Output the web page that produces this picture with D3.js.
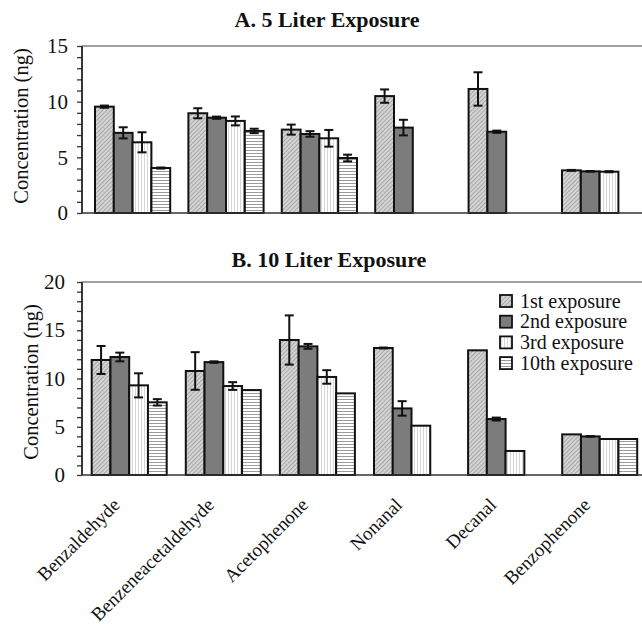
<!DOCTYPE html>
<html>
<head>
<meta charset="utf-8">
<script src="https://cdn.jsdelivr.net/npm/d3@7"></script>
<style>
  html, body { margin: 0; padding: 0; background: #fff; }
  svg { display: block; }
</style>
</head>
<body>
<svg id="chart" width="642" height="624"></svg>
<script>
// ---------- DATA ----------
const categories = ["Benzaldehyde", "Benzeneacetaldehyde", "Acetophenone", "Nonanal", "Decanal", "Benzophenone"];
const seriesNames = ["1st exposure", "2nd exposure", "3rd exposure", "10th exposure"];

// A. 5 Liter Exposure
const a1st  = [9.55, 8.96, 7.49, 10.5, 11.14, 3.83];
const a2nd  = [7.2, 8.56, 7.1, 7.67, 7.3, 3.74];
const a3rd  = [6.35, 8.27, 6.71, 0, 0, 3.71];
const a10th = [4.04, 7.37, 4.94, 0, 0, 0];
const a1stErr  = [0.1, 0.45, 0.45, 0.6, 1.5, 0.04];
const a2ndErr  = [0.5, 0.1, 0.25, 0.7, 0.1, 0.03];
const a3rdErr  = [0.9, 0.4, 0.75, 0, 0, 0.05];
const a10thErr = [0.05, 0.2, 0.3, 0, 0, 0];

// B. 10 Liter Exposure
const b1st  = [11.92, 10.78, 13.99, 13.16, 12.92, 4.21];
const b2nd  = [12.23, 11.7, 13.33, 6.9, 5.8, 4.0];
const b3rd  = [9.29, 9.22, 10.16, 5.11, 2.49, 3.73];
const b10th = [7.53, 8.8, 8.46, 0, 0, 3.73];
const b1stErr  = [1.45, 1.95, 2.55, 0.05, 0, 0];
const b2ndErr  = [0.45, 0.08, 0.25, 0.75, 0.15, 0.03];
const b3rdErr  = [1.25, 0.4, 0.7, 0, 0, 0];
const b10thErr = [0.33, 0, 0, 0, 0, 0];

const yTicksA = [0, 5, 10, 15];
const yTicksB = [0, 5, 10, 15, 20];

// ---------- DRAW ----------
const FONT = '"Liberation Serif", "Times New Roman", serif';
const svg = d3.select("#chart");
const defs = svg.append("defs");

// patterns
const p1 = defs.append("pattern").attr("id", "pat0").attr("patternUnits", "userSpaceOnUse")
  .attr("width", 3).attr("height", 3).attr("patternTransform", "rotate(45)");
p1.append("rect").attr("width", 3).attr("height", 3).attr("fill", "#d4d4d4");
p1.append("line").attr("x1", 0).attr("y1", 0).attr("x2", 0).attr("y2", 3)
  .attr("stroke", "#8e8e8e").attr("stroke-width", 1.3);

const p2 = defs.append("pattern").attr("id", "pat1").attr("patternUnits", "userSpaceOnUse")
  .attr("width", 4).attr("height", 4);
p2.append("rect").attr("width", 4).attr("height", 4).attr("fill", "#7c7c7c");

const p3 = defs.append("pattern").attr("id", "pat2").attr("patternUnits", "userSpaceOnUse")
  .attr("width", 3).attr("height", 3);
p3.append("rect").attr("width", 3).attr("height", 3).attr("fill", "#ffffff");
p3.append("line").attr("x1", 0.5).attr("y1", 0).attr("x2", 0.5).attr("y2", 3)
  .attr("stroke", "#d6d6d6").attr("stroke-width", 1);

const p4 = defs.append("pattern").attr("id", "pat3").attr("patternUnits", "userSpaceOnUse")
  .attr("width", 3).attr("height", 3);
p4.append("rect").attr("width", 3).attr("height", 3).attr("fill", "#ffffff");
p4.append("line").attr("x1", 0).attr("y1", 0.5).attr("x2", 3).attr("y2", 0.5)
  .attr("stroke", "#9a9a9a").attr("stroke-width", 1);

function panel(cfg) {
  const g = svg.append("g");
  const y = d3.scaleLinear().domain([0, cfg.yMax]).range([cfg.y0, cfg.yTop]);
  const x0 = d3.scaleBand().domain(categories).range([cfg.xLeft, cfg.xLeft + 6 * cfg.band]);
  const x1 = d3.scaleBand().domain(seriesNames).range([cfg.offset, cfg.offset + 4 * cfg.barW]);

  // title
  g.append("text").attr("x", cfg.titleX).attr("y", cfg.titleY)
    .attr("text-anchor", "middle")
    .style("font-family", FONT).style("font-size", "22px").style("font-weight", "bold").style("fill", "#111")
    .text(cfg.title);

  // top frame line
  g.append("line").attr("x1", cfg.xLeft).attr("x2", 642).attr("y1", y(cfg.yMax)).attr("y2", y(cfg.yMax))
    .attr("stroke", "#808080").attr("stroke-width", 1.5);

  // y axis
  const axis = d3.axisLeft(y).tickValues(d3.range(0, cfg.yMax + 1, 1))
    .tickSize(5).tickPadding(cfg.tickPad)
    .tickFormat(d => cfg.yTicks.includes(d) ? d : "");
  const ag = g.append("g").attr("transform", `translate(${cfg.xLeft},0)`).call(axis)
    .attr("font-family", null).attr("font-size", null);
  ag.select(".domain").remove();
  ag.selectAll(".tick line").attr("stroke", "#333").attr("stroke-width", 1.3);
  ag.selectAll(".tick text").style("font-size", "21px").style("font-family", FONT).style("fill", "#111");
  g.append("line").attr("x1", cfg.xLeft).attr("x2", cfg.xLeft).attr("y1", y(cfg.yMax)).attr("y2", y(0))
    .attr("stroke", "#222").attr("stroke-width", 1.8);

  // y title
  g.append("text").attr("transform", `translate(${cfg.yTitleX},${cfg.yTitleY}) rotate(-90)`)
    .attr("text-anchor", "middle")
    .style("font-family", FONT).style("font-size", "20.5px").style("fill", "#111")
    .text("Concentration (ng)");

  // bars
  const rows = [];
  categories.forEach((c, i) => {
    seriesNames.forEach((s, j) => {
      rows.push({ cat: c, ser: s, j: j, v: cfg.values[j][i], e: cfg.errs[j][i] });
    });
  });

  const bars = g.append("g");
  bars.selectAll("rect").data(rows).join("rect")
    .attr("x", d => x0(d.cat) + x1(d.ser))
    .attr("y", d => y(d.v))
    .attr("width", x1.bandwidth())
    .attr("height", d => y(0) - y(d.v))
    .attr("fill", d => `url(#pat${d.j})`)
    .attr("stroke", d => d.v > 0 ? "#111" : "#bbb")
    .attr("stroke-width", d => d.v > 0 ? 2 : 1.5);

  // x axis baseline
  g.append("line").attr("x1", cfg.xLeft).attr("x2", 642).attr("y1", y(0)).attr("y2", y(0))
    .attr("stroke", "#333").attr("stroke-width", 1.6);

  // error bars
  const eb = g.append("g").attr("stroke", "#111").attr("stroke-width", 2);
  const er = rows.filter(d => d.e > 0);
  const cx = d => x0(d.cat) + x1(d.ser) + x1.bandwidth() / 2;
  eb.selectAll("line.v").data(er).join("line").attr("class", "v")
    .attr("x1", cx).attr("x2", cx).attr("y1", d => y(d.v + d.e)).attr("y2", d => y(d.v - d.e));
  eb.selectAll("line.t").data(er).join("line").attr("class", "t")
    .attr("x1", d => cx(d) - 4.5).attr("x2", d => cx(d) + 4.5).attr("y1", d => y(d.v + d.e)).attr("y2", d => y(d.v + d.e));
  eb.selectAll("line.b").data(er).join("line").attr("class", "b")
    .attr("x1", d => cx(d) - 4.5).attr("x2", d => cx(d) + 4.5).attr("y1", d => y(d.v - d.e)).attr("y2", d => y(d.v - d.e));

  return { x0, y };
}

panel({
  title: "A. 5 Liter Exposure", titleX: 327, titleY: 27,
  yMax: 15, yTicks: yTicksA, y0: 213, yTop: 46, xLeft: 82, band: 93.4, offset: 13, barW: 18.8,
  tickPad: 9, yTitleX: 28, yTitleY: 126,
  values: [a1st, a2nd, a3rd, a10th], errs: [a1stErr, a2ndErr, a3rdErr, a10thErr]
});

const pb = panel({
  title: "B. 10 Liter Exposure", titleX: 329, titleY: 267,
  yMax: 20, yTicks: yTicksB, y0: 475, yTop: 282, xLeft: 82, band: 94.1, offset: 9.7, barW: 18.75,
  tickPad: 12, yTitleX: 38, yTitleY: 382,
  values: [b1st, b2nd, b3rd, b10th], errs: [b1stErr, b2ndErr, b3rdErr, b10thErr]
});

// x labels (rotated)
svg.append("g").selectAll("text").data(categories).join("text")
  .attr("transform", d => `translate(${pb.x0(d) + pb.x0.bandwidth() / 2 - 8},${506}) rotate(-45)`)
  .attr("text-anchor", "end")
  .style("font-family", FONT).style("font-size", "19px").style("fill", "#111")
  .text(d => d);

// legend
const leg = svg.append("g");
seriesNames.forEach((s, j) => {
  const yy = 295 + j * 20.7;
  leg.append("rect").attr("x", 500).attr("y", yy).attr("width", 12).attr("height", 12)
    .attr("fill", `url(#pat${j})`).attr("stroke", "#111").attr("stroke-width", 1.8);
  leg.append("text").attr("x", 520).attr("y", yy + 12.5)
    .style("font-family", FONT).style("font-size", "20px").style("fill", "#111")
    .text(s);
});
</script>
</body>
</html>
